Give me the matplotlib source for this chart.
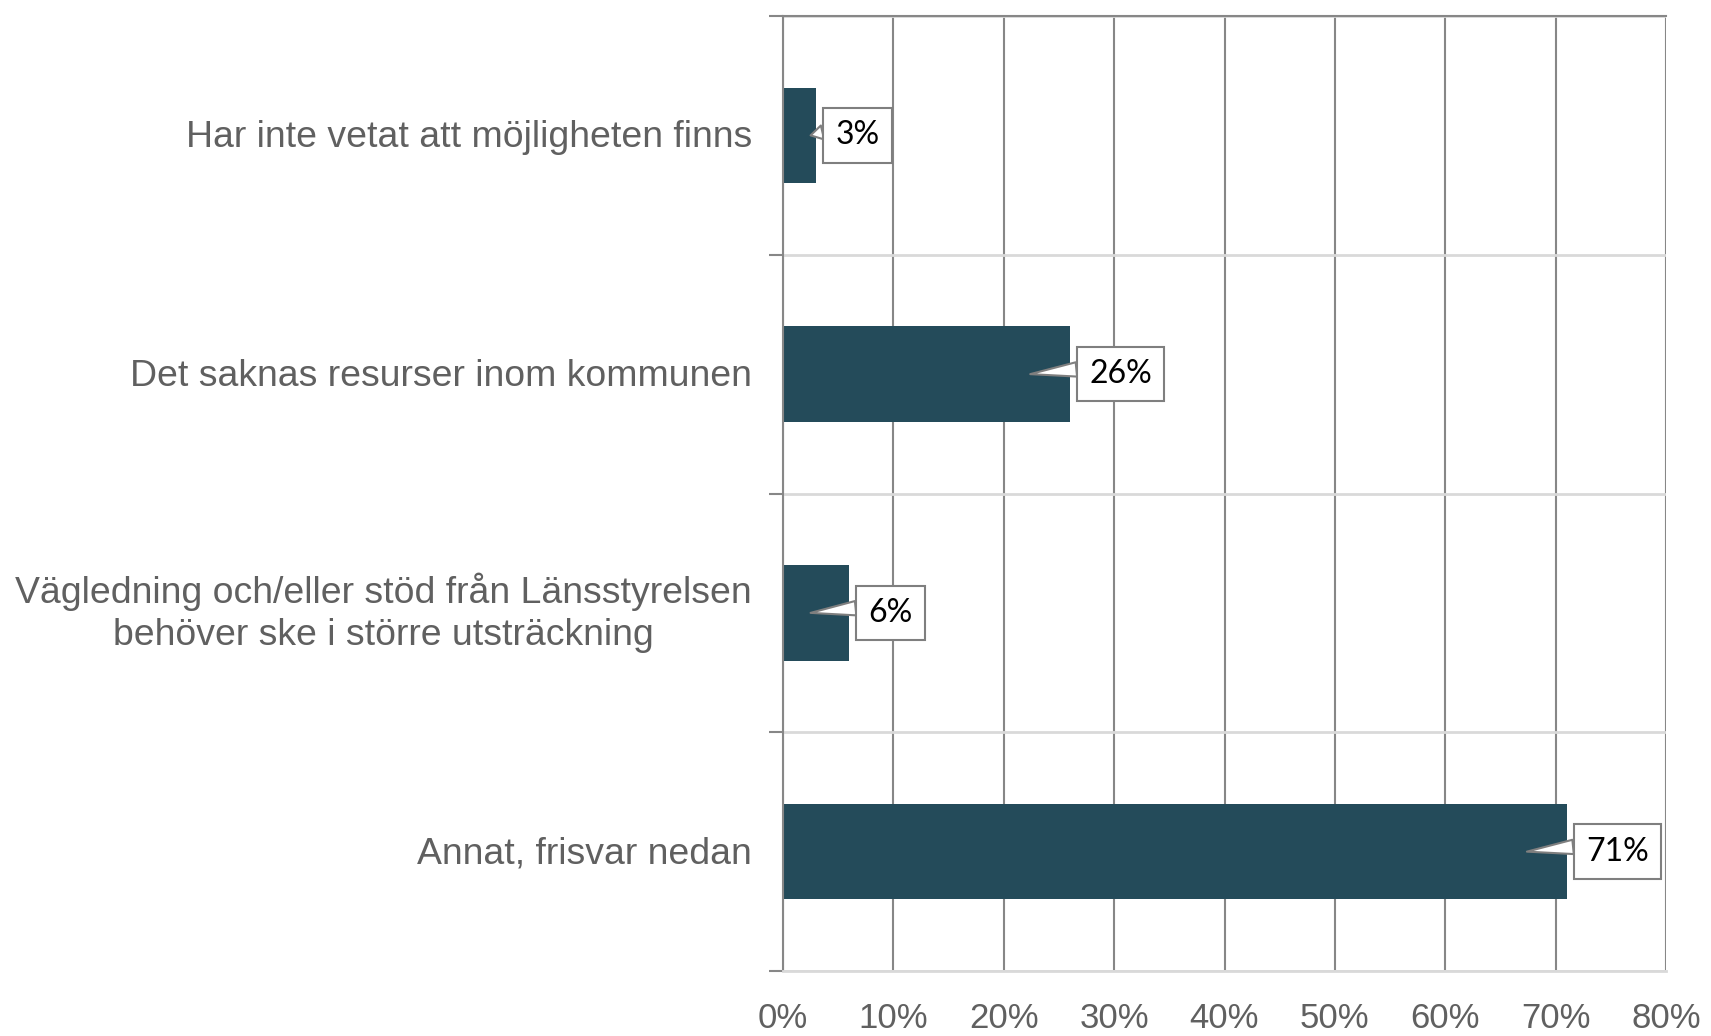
import numpy as np
import matplotlib

matplotlib.use("Agg")
import matplotlib.pyplot as plt
from matplotlib.transforms import ScaledTranslation

# ── data ──
categories = [
    "Har inte vetat att möjligheten finns",
    "Det saknas resurser inom kommunen",
    "Vägledning och/eller stöd från Länsstyrelsen\nbehöver ske i större utsträckning",
    "Annat, frisvar nedan",
]
values = [3, 26, 6, 71]
xticks = [0, 10, 20, 30, 40, 50, 60, 70, 80]
xtick_labels = [f"{t}%" for t in xticks]

BAR_COLOR = "#244B5A"
LABEL_GRAY = "#606060"
GRID_DARK = "#878787"
GRID_LIGHT = "#d9d9d9"

fig = plt.figure(figsize=(17.11, 10.36), dpi=100)
ax = fig.add_axes([783 / 1711, 65 / 1036, 883 / 1711, 955 / 1036])

y = np.arange(len(categories))
ax.barh(y, values, height=0.4, color=BAR_COLOR, zorder=2)

ax.set_xlim(0, 80)
ax.set_ylim(len(categories) - 0.5, -0.5)

# x-axis: dark vertical gridlines
ax.set_xticks(xticks)
ax.set_xticklabels(xtick_labels, family="Liberation Sans", fontsize=25, color=LABEL_GRAY)
ax.tick_params(axis="x", length=0, pad=22)
ax.xaxis.grid(True, color=GRID_DARK, lw=1.5, zorder=0)

# y-axis: category labels, light separators between categories
ax.set_yticks(y)
ax.set_yticklabels(categories, family="Liberation Sans", fontsize=26.9,
                   color=LABEL_GRAY, multialignment="center", linespacing=1.27)
ax.tick_params(axis="y", which="major", length=0, pad=22.5)
ax.set_yticks(np.arange(-0.5, len(categories)), minor=True)
ax.tick_params(axis="y", which="minor", length=10, width=1.5, color=GRID_DARK)
ax.yaxis.grid(True, which="minor", color=GRID_LIGHT, lw=2, zorder=0)
ax.set_axisbelow(True)

# nudge labels up a little (two-line label a bit more)
for lab in ax.get_yticklabels():
    dy = 5.5 if "\n" in lab.get_text() else 1.5
    lab.set_transform(lab.get_transform() + ScaledTranslation(0, dy / 72, fig.dpi_scale_trans))

for side in ["left", "top"]:
    ax.spines[side].set_color(GRID_DARK)
    ax.spines[side].set_linewidth(1.5)
ax.spines["right"].set_visible(False)
ax.spines["bottom"].set_color(GRID_LIGHT)
ax.spines["bottom"].set_linewidth(2)

# callout labels
for i, v in enumerate(values):
    tip = max(v - 3.6, 2.5)
    ax.annotate(
        f"{v}%", xy=(tip, i), xytext=(v + 1.75, i), textcoords="data",
        ha="left", va="center", family="Lato", fontsize=23, color="black",
        bbox=dict(boxstyle="square,pad=0.38", fc="white", ec="#7f7f7f", lw=1.5),
        arrowprops=dict(arrowstyle="wedge,tail_width=0.45,shrink_factor=0.5",
                        fc="white", ec="#7f7f7f", lw=1.5,
                        relpos=(0.0, 0.7), shrinkA=0, shrinkB=0),
        zorder=5,
    )

fig.savefig("out.png", dpi=100)
